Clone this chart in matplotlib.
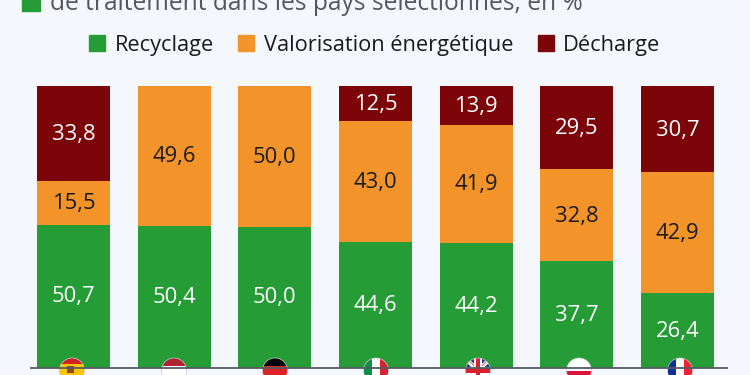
#!/usr/bin/env python
import matplotlib
matplotlib.use('Agg')
import matplotlib.pyplot as plt
import numpy as np
from matplotlib.patches import Circle, Rectangle, Polygon

plt.rcParams['font.family'] = ['Open Sans', 'DejaVu Sans']

countries = ['Espagne', 'Pays-Bas', 'Allemagne', 'Italie', 'Royaume-Uni', 'Pologne', 'France']
recyclage = [50.7, 50.4, 50.0, 44.6, 44.2, 37.7, 26.4]
valorisation = [15.5, 49.6, 50.0, 43.0, 41.9, 32.8, 42.9]
decharge = [33.8, 0, 0, 12.5, 13.9, 29.5, 30.7]
series_names = ['Recyclage', 'Valorisation énergétique', 'Décharge']

GREEN = '#259c35'
ORANGE = '#f3942b'
RED = '#7c0509'
BG = '#f4f7fb'

fig = plt.figure(figsize=(7.5, 3.75), dpi=100, facecolor=BG)

# main axes spans the full width so x maps to pixels directly
ax = fig.add_axes([0, (375 - 367.5) / 375, 1, (367.5 - 86) / 375])
ax.patch.set_alpha(0)
ax.set_xlim((0 - 73.5) / 100.67, (750 - 73.5) / 100.67)
ax.set_ylim(0, 100)
ax.axis('off')

x = np.arange(len(countries))
w = 73 / 100.67
bottom = np.zeros(len(x))
for vals, col, tc in zip([recyclage, valorisation, decharge], [GREEN, ORANGE, RED], ['white', '#1a1a1a', 'white']):
    vals = np.array(vals)
    ax.bar(x, vals, w, bottom=bottom, color=col)
    for xi, b, v in zip(x, bottom, vals):
        if v > 0:
            ax.text(xi, b + v / 2 - 0.3, f'{v:.1f}'.replace('.', ','), ha='center', va='center',
                    color=tc, fontsize=15.8)
    bottom += vals

# overlay in pixel coordinates for title, legend, baseline and flags
ov = fig.add_axes([0, 0, 1, 1])
ov.patch.set_alpha(0)
ov.set_xlim(0, 750)
ov.set_ylim(375, 0)
ov.axis('off')

ov.plot([30, 728], [367.7, 367.7], color='#555b63', lw=1.3, solid_capstyle='butt')

ov.add_patch(Rectangle((22, -7), 18, 18, color=GREEN))
ov.text(50, 10.5, 'de traitement dans les pays sélectionnés, en %', color='#54585c',
        fontsize=17.65, va='baseline', ha='left')

leg_x = [89, 238, 538]
leg_tx = [114.5, 263.5, 563]
for lx, tx, col, name in zip(leg_x, leg_tx, [GREEN, ORANGE, RED], series_names):
    ov.add_patch(Rectangle((lx, 35), 16, 16, color=col))
    ov.text(tx, 51, name, color='#1a1a1a', fontsize=15.65, va='baseline', ha='left')


def flag(cx, draw):
    clip = Circle((cx, 370.5), 12.5, transform=ov.transData)
    for p in draw(cx):
        ov.add_patch(p)
        p.set_clip_path(clip)
    ov.add_patch(Circle((cx, 370.5), 12.5, fc='none', ec='#c8cbd0', lw=0.5))


def hstripes(cols, heights=None):
    heights = heights or [25 / len(cols)] * len(cols)
    def f(cx):
        out, y = [], 358
        for c, h in zip(cols, heights):
            out.append(Rectangle((cx - 13, y), 26, h, fc=c, ec='none'))
            y += h
        return out
    return f


def vstripes(cols):
    def f(cx):
        return [Rectangle((cx - 12.5 + i * 25 / 3, 357), 25 / 3, 26, fc=c, ec='none') for i, c in enumerate(cols)]
    return f


def uk(cx):
    top = 358
    out = [Rectangle((cx - 13, top), 26, 26, fc='#1f3a8c', ec='none')]
    for s in (1, -1):
        out.append(Polygon([(cx - s * 13, top), (cx - s * 10, top), (cx + s * 13, top + 22), (cx + s * 13, top + 25), (cx + s * 10, top + 25), (cx - s * 13, top + 3)], fc='white', ec='none'))
    for s in (1, -1):
        out.append(Polygon([(cx - s * 12, top), (cx - s * 11, top), (cx + s * 12, top + 24), (cx + s * 11, top + 24)], fc='#d8222f', ec='none'))
    out.append(Rectangle((cx - 4, top), 8, 26, fc='white', ec='none'))
    out.append(Rectangle((cx - 13, top + 8.5), 26, 8, fc='white', ec='none'))
    out.append(Rectangle((cx - 2.2, top), 4.4, 26, fc='#d8222f', ec='none'))
    out.append(Rectangle((cx - 13, top + 10.3), 26, 4.4, fc='#d8222f', ec='none'))
    return out


def spain(cx):
    out = hstripes(['#d32027', '#fdc400', '#d32027'], [6, 13, 6])(cx)
    out.append(Rectangle((cx - 5, 366), 7, 7, fc='#8a4b20', ec='none'))
    return out


flag_x = [72, 174, 275, 376, 478, 579, 680]
flag_draw = [spain,
             hstripes(['#ae2433', '#ffffff', '#25468c']),
             hstripes(['#000000', '#dd1f26', '#ffce00']),
             vstripes(['#0a9148', '#ffffff', '#d8222f']),
             uk,
             hstripes(['#ffffff', '#dc143c'], [12.5, 12.5]),
             vstripes(['#0f2f96', '#ffffff', '#ee2436'])]
for cx, d in zip(flag_x, flag_draw):
    flag(cx, d)

plt.savefig('out.png', dpi=100, facecolor=BG)
